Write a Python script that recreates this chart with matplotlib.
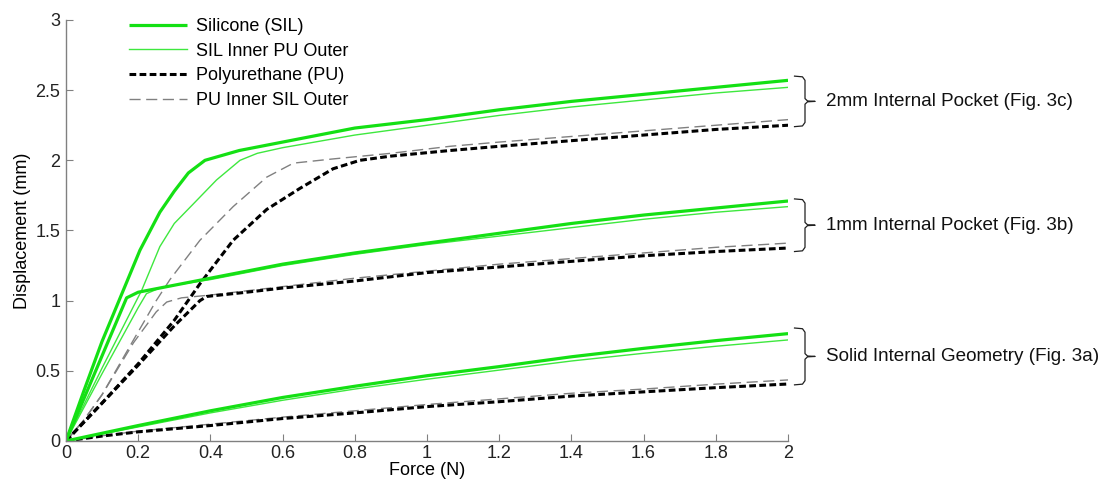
import numpy as np
import matplotlib.pyplot as plt

plt.rcParams['font.family'] = ['Liberation Sans', 'DejaVu Sans']

# ---- data (force in N, displacement in mm) ----
# 2mm internal pocket
f_2_sil = [0, 0.05, 0.1, 0.159, 0.205, 0.26, 0.3, 0.339, 0.385, 0.48, 0.6, 0.8, 1.0, 1.2, 1.4, 1.6, 1.8, 2.0]
d_2_sil = [0, 0.36, 0.71, 1.075, 1.36, 1.63, 1.78, 1.91, 2.0, 2.07, 2.13, 2.23, 2.29, 2.36, 2.42, 2.47, 2.52, 2.57]
f_2_silin = [0, 0.1, 0.21, 0.26, 0.3, 0.353, 0.417, 0.482, 0.53, 0.6, 0.8, 1.0, 1.2, 1.4, 1.6, 1.8, 2.0]
d_2_silin = [0, 0.52, 1.075, 1.385, 1.55, 1.69, 1.86, 2.0, 2.05, 2.09, 2.18, 2.25, 2.32, 2.38, 2.43, 2.48, 2.52]
f_2_pu = [0, 0.1, 0.2, 0.3, 0.371, 0.463, 0.556, 0.648, 0.74, 0.814, 0.9, 1.064, 1.2, 1.4, 1.6, 1.8, 2.0]
d_2_pu = [0, 0.27, 0.55, 0.86, 1.12, 1.43, 1.65, 1.80, 1.94, 2.0, 2.03, 2.07, 2.10, 2.14, 2.18, 2.22, 2.25]
f_2_puin = [0, 0.05, 0.1, 0.187, 0.25, 0.288, 0.371, 0.463, 0.556, 0.63, 0.74, 0.9, 1.064, 1.2, 1.4, 1.6, 1.8, 2.0]
d_2_puin = [0, 0.15, 0.33, 0.72, 1.0, 1.15, 1.43, 1.67, 1.88, 1.98, 2.01, 2.05, 2.10, 2.13, 2.17, 2.21, 2.25, 2.29]

# 1mm internal pocket
f_1_sil = [0, 0.168, 0.2, 0.4, 0.6, 0.8, 1.0, 1.2, 1.4, 1.6, 1.8, 2.0]
d_1_sil = [0, 1.02, 1.06, 1.16, 1.26, 1.34, 1.41, 1.48, 1.55, 1.61, 1.66, 1.71]
f_1_silin = [0, 0.1, 0.2, 0.223, 0.26, 0.3, 0.4, 0.6, 0.8, 1.0, 1.2, 1.4, 1.6, 1.8, 2.0]
d_1_silin = [0, 0.48, 0.95, 1.05, 1.09, 1.11, 1.15, 1.25, 1.33, 1.40, 1.46, 1.52, 1.58, 1.63, 1.67]
f_1_pu = [0, 0.1, 0.2, 0.3, 0.371, 0.39, 0.5, 0.6, 0.8, 1.0, 1.2, 1.4, 1.6, 1.8, 2.0]
d_1_pu = [0, 0.27, 0.54, 0.82, 1.0, 1.03, 1.06, 1.09, 1.14, 1.20, 1.24, 1.28, 1.32, 1.35, 1.375]
f_1_puin = [0, 0.05, 0.1, 0.187, 0.25, 0.279, 0.32, 0.4, 0.6, 0.8, 1.0, 1.2, 1.4, 1.6, 1.8, 2.0]
d_1_puin = [0, 0.15, 0.33, 0.70, 0.92, 0.99, 1.02, 1.04, 1.10, 1.16, 1.21, 1.26, 1.30, 1.34, 1.38, 1.41]

# solid internal geometry
f_s = [0, 0.1, 0.2, 0.4, 0.6, 0.8, 1.0, 1.2, 1.4, 1.6, 1.8, 2.0]
d_s_sil = [0, 0.055, 0.11, 0.215, 0.31, 0.39, 0.465, 0.53, 0.6, 0.66, 0.715, 0.765]
d_s_silin = [0, 0.05, 0.10, 0.20, 0.29, 0.37, 0.44, 0.505, 0.57, 0.625, 0.675, 0.72]
d_s_pu = [0, 0.035, 0.065, 0.11, 0.16, 0.20, 0.245, 0.28, 0.32, 0.35, 0.38, 0.406]
d_s_puin = [0, 0.037, 0.07, 0.12, 0.17, 0.215, 0.26, 0.30, 0.34, 0.37, 0.405, 0.435]

labels = ['Silicone (SIL)', 'SIL Inner PU Outer', 'Polyurethane (PU)', 'PU Inner SIL Outer']
groups = ['2mm Internal Pocket (Fig. 3c)', '1mm Internal Pocket (Fig. 3b)', 'Solid Internal Geometry (Fig. 3a)']
group_top = [2.60, 1.725, 0.805]
group_bot = [2.24, 1.35, 0.40]

xticks = [0, 0.2, 0.4, 0.6, 0.8, 1, 1.2, 1.4, 1.6, 1.8, 2]
xticklabels = ['0', '0.2', '0.4', '0.6', '0.8', '1', '1.2', '1.4', '1.6', '1.8', '2']
yticks = [0, 0.5, 1, 1.5, 2, 2.5, 3]
yticklabels = ['0', '0.5', '1', '1.5', '2', '2.5', '3']

sty_sil = dict(color='#14e014', lw=2.3, solid_capstyle='butt')
sty_silin = dict(color='#3ee83e', lw=1.0)
sty_pu = dict(color='black', lw=2.2, dashes=(2.2, 1.1))
sty_puin = dict(color='#808080', lw=1.0, dashes=(8, 4))

fig = plt.figure(figsize=(11.2, 4.83), dpi=100)
ax = fig.add_axes([0.0589, 0.087, 0.6447, 0.8716])

ax.plot(f_2_silin, d_2_silin, **sty_silin)
ax.plot(f_1_silin, d_1_silin, **sty_silin)
ax.plot(f_s, d_s_silin, **sty_silin)
ax.plot(f_2_puin, d_2_puin, **sty_puin)
ax.plot(f_1_puin, d_1_puin, **sty_puin)
ax.plot(f_s, d_s_puin, **sty_puin)
ax.plot(f_2_pu, d_2_pu, **sty_pu)
ax.plot(f_1_pu, d_1_pu, **sty_pu)
ax.plot(f_s, d_s_pu, **sty_pu)
ax.plot(f_2_sil, d_2_sil, **sty_sil)
ax.plot(f_1_sil, d_1_sil, **sty_sil)
ax.plot(f_s, d_s_sil, **sty_sil)

# legend from proxy lines
h1, = ax.plot([], [], label=labels[0], **sty_sil)
h2, = ax.plot([], [], label=labels[1], **sty_silin)
h3, = ax.plot([], [], label=labels[2], **sty_pu)
h4, = ax.plot([], [], label=labels[3], **sty_puin)
ax.legend(handles=[h1, h2, h3, h4], loc='upper left', bbox_to_anchor=(0.072, 1.03),
          frameon=False, fontsize=13, handlelength=3.2, handletextpad=0.5,
          labelspacing=0.42, borderaxespad=0.2)

# braces + group labels
for name, top, bot in zip(groups, group_top, group_bot):
    mid = (top + bot) / 2
    bx = [2.018, 2.040, 2.047, 2.047, 2.054, 2.075, 2.054, 2.047, 2.047, 2.040, 2.018]
    by = [top, top - 0.005, top - 0.03, mid + 0.02, mid + 0.003, mid,
          mid - 0.003, mid - 0.02, bot + 0.03, bot + 0.005, bot]
    ax.plot(bx, by, color='#202020', lw=0.9, clip_on=False)
    ax.text(2.105, mid, name, fontsize=13.6, va='center', ha='left', color='#111111')

ax.set_xlim(0, 2)
ax.set_ylim(0, 3)
ax.set_xticks(xticks)
ax.set_xticklabels(xticklabels)
ax.set_yticks(yticks)
ax.set_yticklabels(yticklabels)
ax.spines['top'].set_visible(False)
ax.spines['right'].set_visible(False)
for s in ['left', 'bottom']:
    ax.spines[s].set_color('#808080')
    ax.spines[s].set_linewidth(1.0)
ax.tick_params(direction='in', length=5, color='#808080', labelsize=13,
               labelcolor='#222222')
ax.tick_params(axis='x', pad=3)
ax.tick_params(axis='y', pad=4)
ax.set_xlabel('Force (N)', fontsize=13, labelpad=0)
ax.set_ylabel('Displacement (mm)', fontsize=13, labelpad=3)

fig.savefig('out.png', dpi=100)
